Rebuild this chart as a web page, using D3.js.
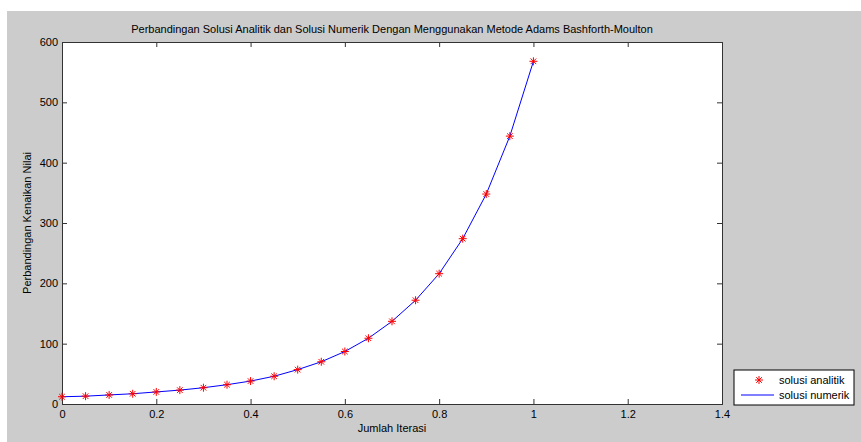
<!DOCTYPE html>
<html>
<head>
<meta charset="utf-8">
<script src="https://cdn.jsdelivr.net/npm/d3@7"></script>
<style>
  body { margin: 0; background: #fff; }
  text { font-family: "Liberation Sans", Arial, sans-serif; fill: #000; }
</style>
</head>
<body>
<div id="chart"></div>
<script>
// iterasi (x)
const xVals = [0, 0.05, 0.1, 0.15, 0.2, 0.25, 0.3, 0.35, 0.4, 0.45, 0.5,
               0.55, 0.6, 0.65, 0.7, 0.75, 0.8, 0.85, 0.9, 0.95, 1.0];
// solusi analitik (markers)
const analitik = [12, 13, 15, 17, 20, 23, 27, 32, 38, 46, 57,
                  70, 87, 109, 137, 172, 216, 274, 348, 444, 568];
// solusi numerik (line)
const numerik = [12, 13, 15, 17, 20, 23, 27, 32, 38, 46, 57,
                 70, 87, 109, 137, 172, 216, 274, 348, 444, 568];
const xTicks = [0, 0.2, 0.4, 0.6, 0.8, 1, 1.2, 1.4];
const yTicks = [0, 100, 200, 300, 400, 500, 600];

const W = 861, H = 442;
const margin = {top: 42, bottom: 38, left: 62, right: 139};
const w = W - margin.left - margin.right;
const h = H - margin.top - margin.bottom;

let svg = d3.select("#chart").append("svg")
  .attr("width", W).attr("height", H);

// figure background (grey, with small white strip top/left)
svg.append("rect").attr("x", 7).attr("y", 11)
  .attr("width", W - 7).attr("height", H - 11).attr("fill", "#cccccc");

let g = svg.append("g")
  .attr("transform", "translate(" + margin.left + "," + margin.top + ")");

let x = d3.scaleLinear().domain([0, 1.4]).range([0, w]);
let y = d3.scaleLinear().domain([0, 600]).range([h, 0]);

g.append("rect").attr("width", w).attr("height", h).attr("fill", "#fff");

const fmt = d => d === 0 ? "0" : d3.format("~g")(d);

// axes with inward ticks
g.append("g").attr("transform", "translate(0," + h + ")")
  .call(d3.axisBottom(x).tickValues(xTicks).tickSize(-5).tickPadding(6).tickFormat(fmt));
g.append("g")
  .call(d3.axisTop(x).tickValues(xTicks).tickSize(-5).tickFormat(""));
g.append("g")
  .call(d3.axisLeft(y).tickValues(yTicks).tickSize(-5).tickPadding(4).tickFormat(fmt));
g.append("g").attr("transform", "translate(" + w + ",0)")
  .call(d3.axisRight(y).tickValues(yTicks).tickSize(-5).tickFormat(""));

g.selectAll(".domain").attr("stroke", "#333");
g.selectAll(".tick line").attr("stroke", "#333");
g.selectAll(".tick text").style("font-size", "11px")
  .style("font-family", "Liberation Sans, Arial, sans-serif").attr("fill", "#000");

// numerik line
let line = d3.line().x((d, i) => x(xVals[i])).y(d => y(d));
g.append("path").datum(numerik)
  .attr("d", line).attr("fill", "none").attr("stroke", "#0000ff").attr("stroke-width", 1);

// analitik asterisk markers
function star(sel, s) {
  const a = s * 0.7;
  sel.append("line").attr("x1", -s).attr("x2", s).attr("y1", 0).attr("y2", 0);
  sel.append("line").attr("x1", 0).attr("x2", 0).attr("y1", -s).attr("y2", s);
  sel.append("line").attr("x1", -a).attr("x2", a).attr("y1", -a).attr("y2", a);
  sel.append("line").attr("x1", -a).attr("x2", a).attr("y1", a).attr("y2", -a);
}
g.selectAll(".mk").data(analitik).enter().append("g")
  .attr("class", "mk")
  .attr("transform", (d, i) => "translate(" + x(xVals[i]) + "," + y(d) + ")")
  .attr("stroke", "#ff0000").attr("stroke-width", 1)
  .each(function() { star(d3.select(this), 4); });

// title and labels
svg.append("text").attr("x", margin.left + w / 2).attr("y", 33)
  .attr("text-anchor", "middle").style("font-size", "11px")
  .text("Perbandingan Solusi Analitik dan Solusi Numerik Dengan Menggunakan Metode Adams Bashforth-Moulton");
svg.append("text").attr("x", margin.left + w / 2).attr("y", 432)
  .attr("text-anchor", "middle").style("font-size", "11px")
  .text("Jumlah Iterasi");
svg.append("text")
  .attr("transform", "translate(31," + (margin.top + h / 2) + ") rotate(-90)")
  .attr("text-anchor", "middle").style("font-size", "11px")
  .text("Perbandingan Kenaikan Nilai");

// legend
let lg = svg.append("g").attr("transform", "translate(734,370)");
lg.append("rect").attr("width", 120).attr("height", 35)
  .attr("fill", "#fff").attr("stroke", "#000").attr("stroke-width", 1);
let lm = lg.append("g").attr("transform", "translate(25,10)")
  .attr("stroke", "#ff0000").attr("stroke-width", 1);
star(lm, 4);
lg.append("line").attr("x1", 7).attr("x2", 40).attr("y1", 25).attr("y2", 25)
  .attr("stroke", "#0000ff");
lg.append("text").attr("x", 45).attr("y", 14).style("font-size", "11px").text("solusi analitik");
lg.append("text").attr("x", 45).attr("y", 29).style("font-size", "11px").text("solusi numerik");
</script>
</body>
</html>
